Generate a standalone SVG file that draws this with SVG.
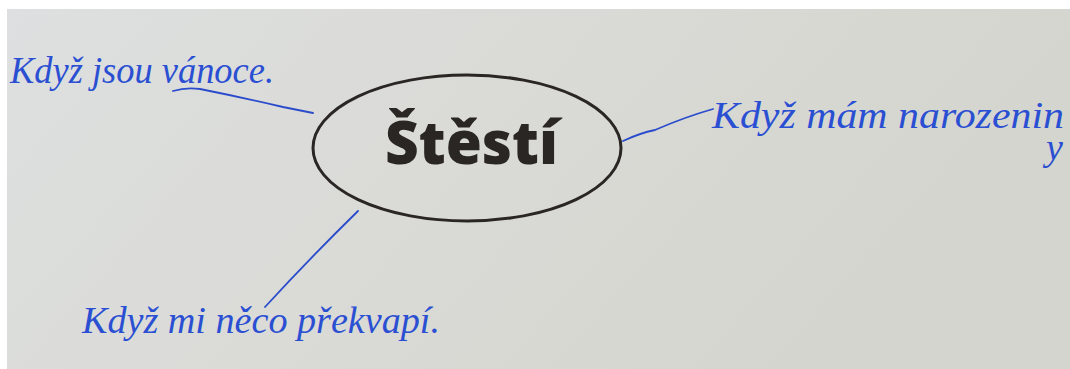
<svg xmlns="http://www.w3.org/2000/svg" width="1070" height="369" viewBox="0 0 1070 369">
  <defs>
    <linearGradient id="paper" x1="0" y1="0" x2="1" y2="0.3">
      <stop offset="0" stop-color="#dde0e0"/>
      <stop offset="0.5" stop-color="#dadad6"/>
      <stop offset="1" stop-color="#d5d5cf"/>
    </linearGradient>
    <clipPath id="photo"><rect x="7" y="9" width="1063" height="360"/></clipPath>
  </defs>
  <style>
    .ink { fill: #2a4fd2; font-family: "Liberation Serif", "DejaVu Serif", serif; font-style: italic; }
    .line { fill: none; stroke: #2a4ccc; stroke-width: 1.8; stroke-linecap: round; stroke-linejoin: round; }
    .title { fill: #2a2624; font-family: "Open Sans", "Liberation Sans", sans-serif; font-weight: 800; }
  </style>
  <rect x="0" y="0" width="1070" height="369" fill="#ffffff"/>
  <rect x="7" y="9" width="1063" height="360" fill="url(#paper)"/>
  <g clip-path="url(#photo)">
    <g id="connectors">
      <path class="line" d="M173 91 Q186 87 200 89 Q240 97 283 107 Q298 110 313 113"/>
      <path class="line" d="M623 141 Q640 133 655 130 Q685 117 713 109"/>
      <path class="line" d="M358 211 Q310 258 265 307"/>
    </g>
    <g id="center">
      <ellipse cx="467" cy="148" rx="154" ry="73" fill="none" stroke="#2a2623" stroke-width="3"/>
      <text class="title" x="385" y="164" font-size="60" textLength="173" lengthAdjust="spacingAndGlyphs">Štěstí</text>
    </g>
    <g id="node-vanoce">
      <text class="ink" x="10" y="83" font-size="38" textLength="264" lengthAdjust="spacingAndGlyphs">Když jsou vánoce.</text>
    </g>
    <g id="node-narozeniny">
      <text class="ink" x="712" y="128" font-size="38"><tspan textLength="352" lengthAdjust="spacingAndGlyphs">Když mám narozenin</tspan><tspan x="1046" y="160">y</tspan></text>
    </g>
    <g id="node-prekvapi">
      <text class="ink" x="82" y="333" font-size="38" textLength="358" lengthAdjust="spacingAndGlyphs">Když mi něco překvapí.</text>
    </g>
  </g>
</svg>
